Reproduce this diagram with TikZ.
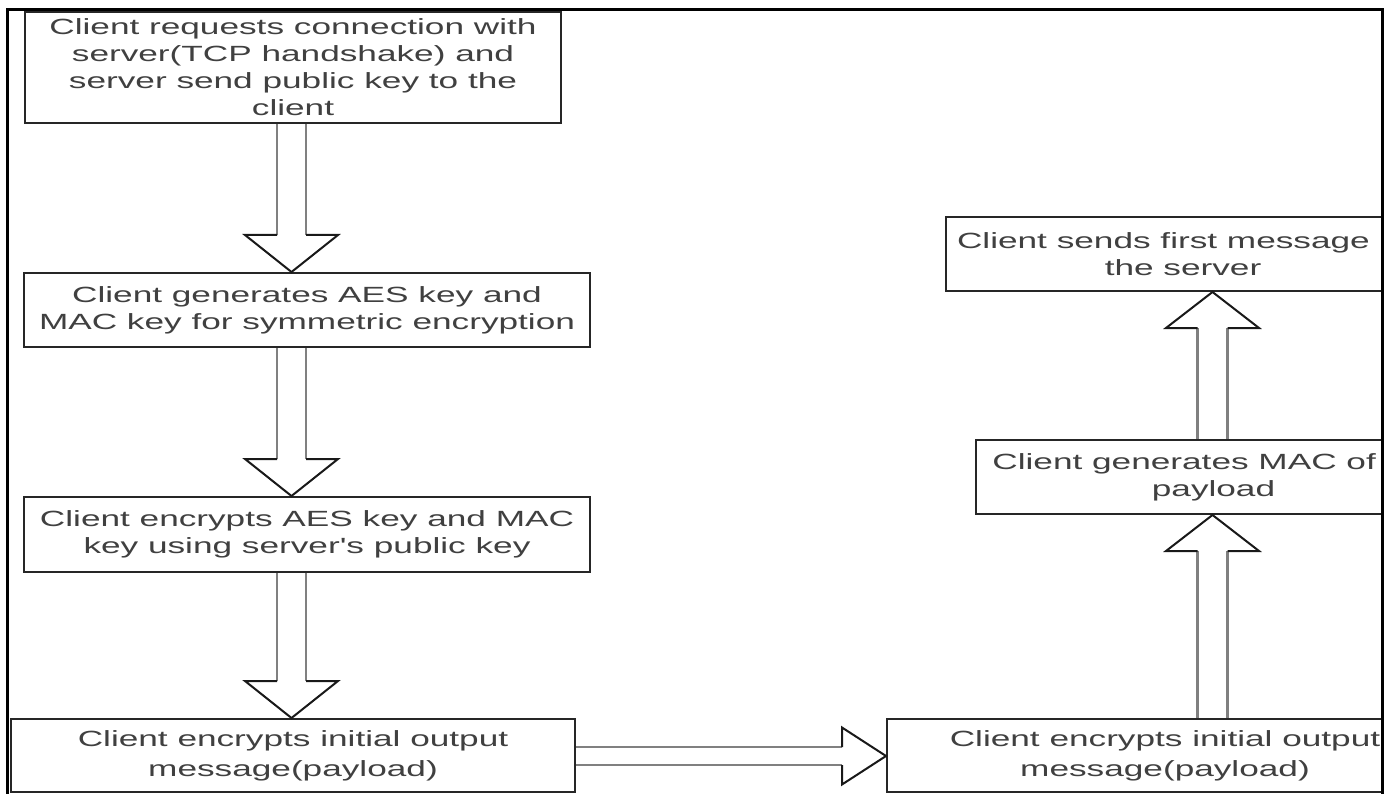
\documentclass[tikz,border=0pt]{standalone}
\usepackage{fontspec}
\setmainfont{Liberation Sans}
\newfontfamily\boxfont[FakeStretch=1.6]{Liberation Sans}
\usetikzlibrary{calc}
\newcommand{\fatarrow}[5]{%
  \coordinate (fa-h) at ($(#2)!#5!(#1)$);
  \draw[shaftline] ($(#1)!#3!90:(#2)$) -- ($(fa-h)!#3!90:(#2)$);
  \draw[shaftline] ($(#1)!#3!-90:(#2)$) -- ($(fa-h)!#3!-90:(#2)$);
  \draw[headline] ($(fa-h)!#3!90:(#2)$) -- ($(fa-h)!#4!90:(#2)$) -- (#2)
     -- ($(fa-h)!#4!-90:(#2)$) -- ($(fa-h)!#3!-90:(#2)$);
}
\tikzset{
  box/.style={draw=black!85, line width=2pt, fill=white, inner sep=0pt, align=center,
    font=\boxfont\fontsize{22}{27}\selectfont, text=black!75},
  lowbox/.style={box, font=\boxfont\fontsize{22}{30}\selectfont},
  shaftline/.style={draw=black!50, line width=2.6pt},
  headline/.style={draw=black!90, line width=2pt, line join=miter},
  frameline/.style={draw=black, line width=3pt},
}
\begin{document}
\begin{tikzpicture}[x=1pt, y=-1pt]
\useasboundingbox (0,0) rectangle (1394,794);
\fill[white] (0,0) rectangle (1394,794);
\begin{scope}
\clip (7,9.5) rectangle (1382,800);
\node[box, minimum width=536pt, minimum height=111pt] (b1) at (293,67.5)
  {Client requests connection with\\server(TCP handshake) and\\server send public key to the\\client};
\node[box, minimum width=566pt, minimum height=74pt] (b2) at (307,310)
  {Client generates AES key and\\MAC key for symmetric encryption};
\node[box, minimum width=566pt, minimum height=75pt] (b3) at (307,534.5)
  {Client encrypts AES key and MAC\\key using server's public key};
\node[lowbox, minimum width=564pt, minimum height=73pt] (b4) at (293,755.5)
  {Client encrypts initial output\\message(payload)};
\node[lowbox, minimum width=556pt, minimum height=73pt] (b5) at (1165,755.5)
  {Client encrypts initial output\\message(payload)};
\node[box, minimum width=475pt, minimum height=74pt] (b6) at (1213.5,477)
  {Client generates MAC of\phantom{ the}\\payload};
\node[box, minimum width=474pt, minimum height=74pt] (b7) at (1183,254)
  {Client sends first message\phantom{ to}\\the server};

\coordinate (colL) at (291.5,0);
\coordinate (colR) at (1212.5,0);
\coordinate (rowH) at (0,756);
\coordinate (a1s) at (colL |- b1.south);
\coordinate (a1e) at (colL |- b2.north);
\coordinate (a2s) at (colL |- b2.south);
\coordinate (a2e) at (colL |- b3.north);
\coordinate (a3s) at (colL |- b3.south);
\coordinate (a3e) at (colL |- b4.north);
\coordinate (a4s) at (b4.east |- rowH);
\coordinate (a4e) at (b5.west |- rowH);
\coordinate (a5s) at (colR |- b5.north);
\coordinate (a5e) at (colR |- b6.south);
\coordinate (a6s) at (colR |- b6.north);
\coordinate (a6e) at (colR |- b7.south);

\fatarrow{a1s}{a1e}{14.5pt}{46.5pt}{37pt}
\fatarrow{a2s}{a2e}{14.5pt}{46.5pt}{37pt}
\fatarrow{a3s}{a3e}{14.5pt}{46.5pt}{37pt}
\fatarrow{a4s}{a4e}{9pt}{28.5pt}{44pt}
\fatarrow{a5s}{a5e}{15pt}{46.5pt}{36pt}
\fatarrow{a6s}{a6e}{15pt}{46.5pt}{36pt}
\end{scope}
\draw[frameline] (7,800) -- (7,9.5) -- (1382,9.5) -- (1382,800);
\end{tikzpicture}
\end{document}
